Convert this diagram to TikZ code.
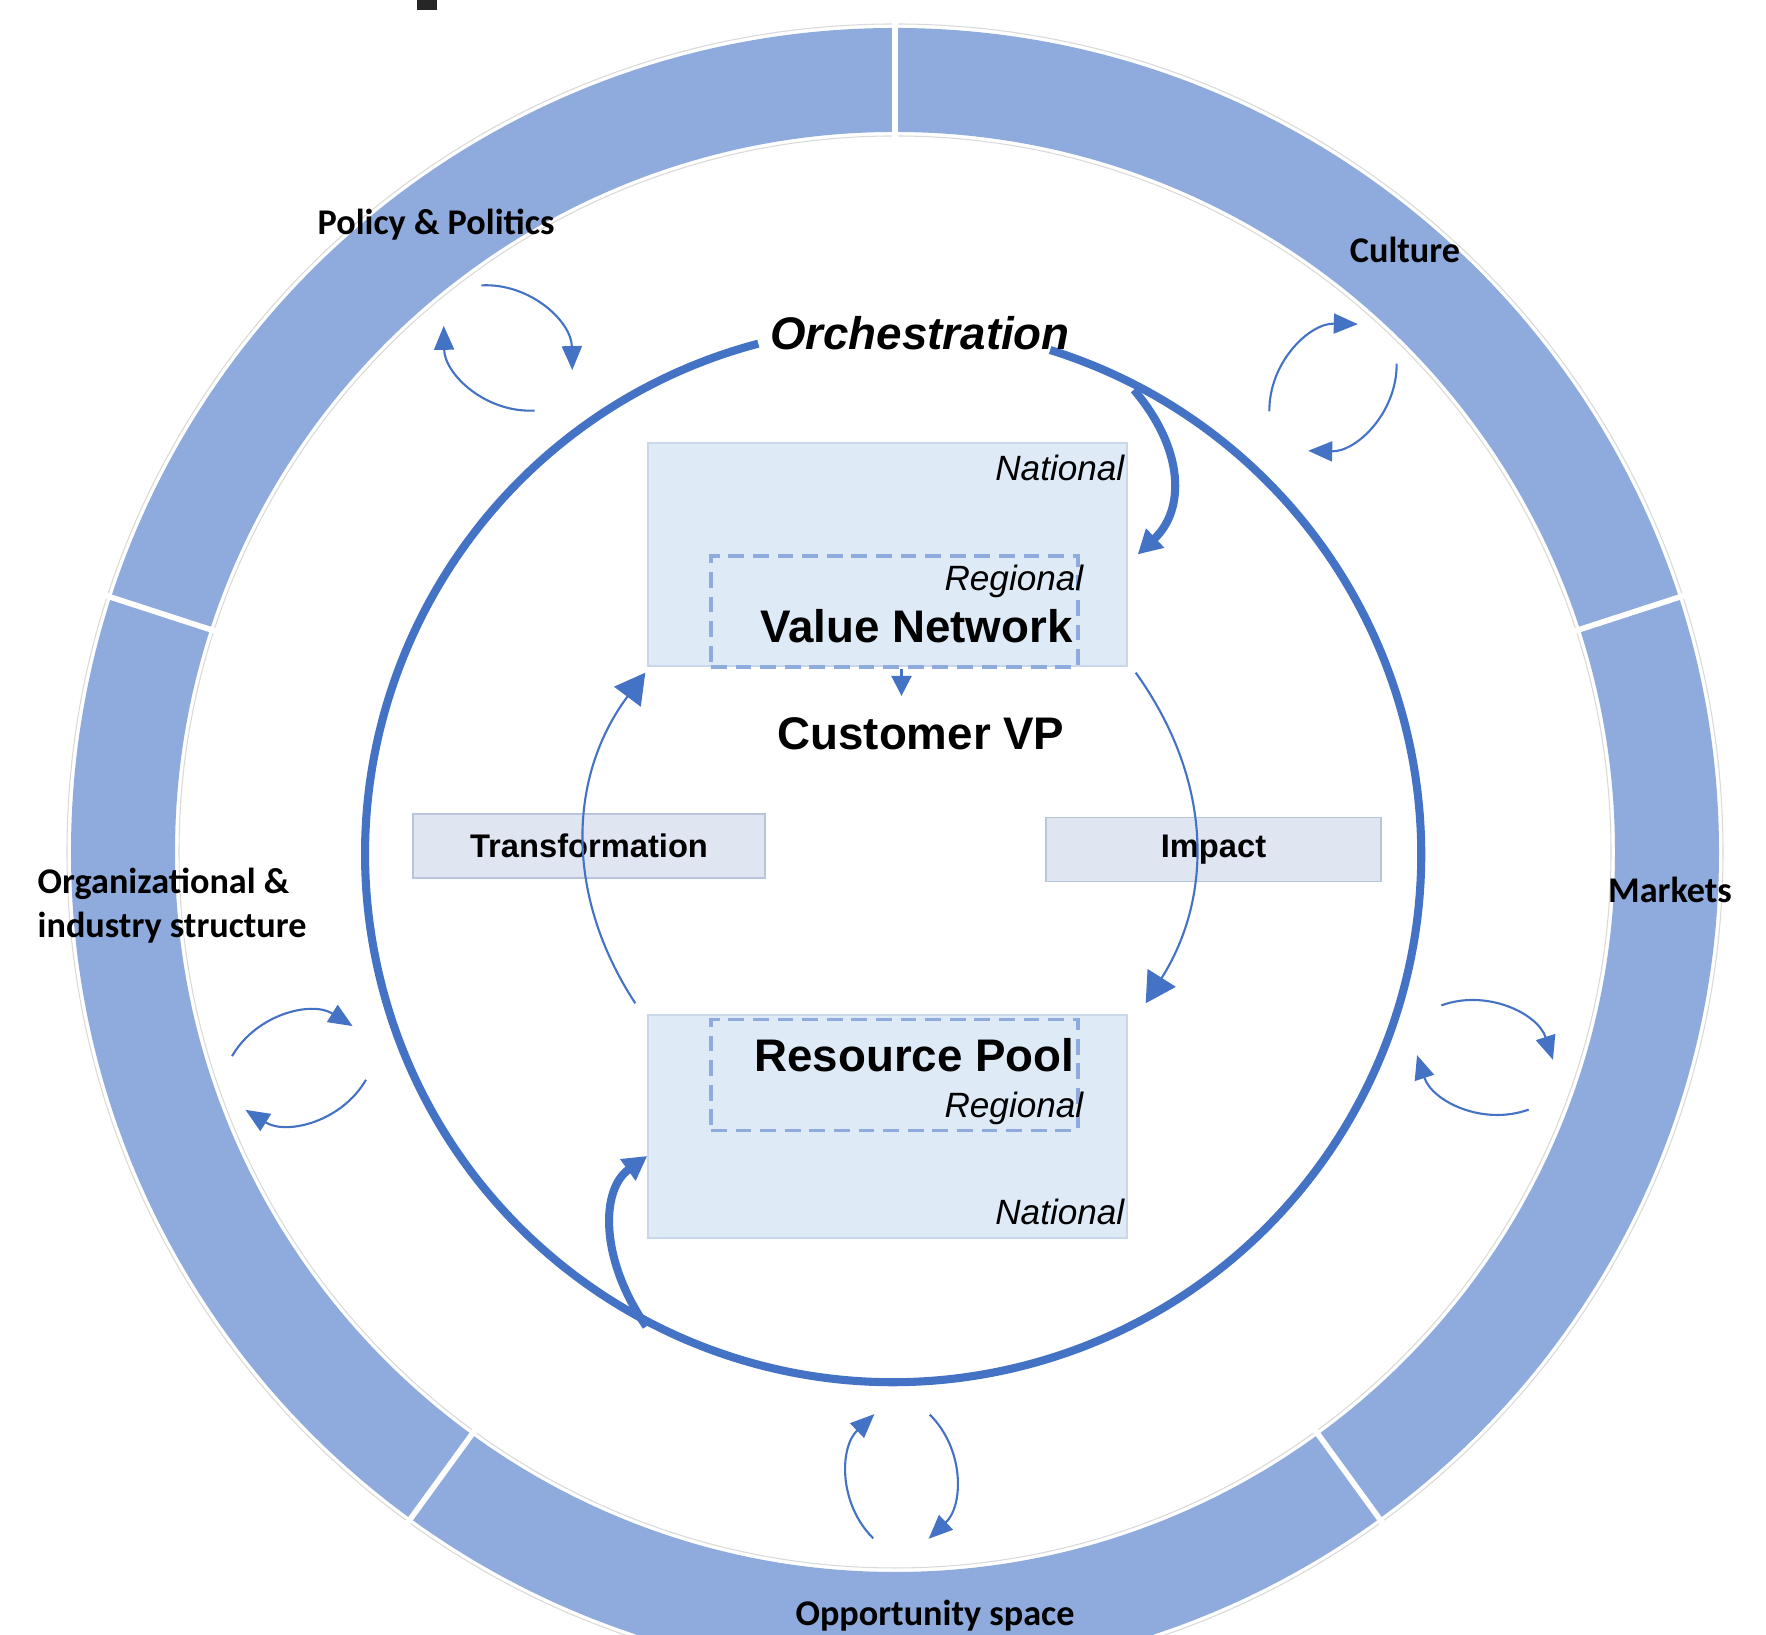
\documentclass[tikz,border=0pt]{standalone}
\usepackage{fontspec}
\setmainfont{Liberation Sans}
\newfontfamily\calibri{Carlito}
\usetikzlibrary{arrows.meta}
\definecolor{ringblue}{HTML}{8FAADC}
\definecolor{linkblue}{HTML}{4472C4}
\definecolor{natfill}{HTML}{DEEBF7}
\definecolor{natedge}{HTML}{C9D7EA}
\definecolor{stepfill}{HTML}{DFE6F2}
\definecolor{stepedge}{HTML}{B8C5DB}
\tikzset{
  ringlabel/.style={font=\calibri\bfseries\fontsize{10.3}{12.5}\selectfont, inner sep=0pt},
  bigtext/.style={font=\bfseries\fontsize{13}{15}\selectfont, inner sep=0pt},
  tag/.style={font=\itshape\fontsize{10}{12}\selectfont, inner sep=0pt},
  natbox/.style={rectangle, fill=natfill, draw=natedge, line width=0.4pt,
    minimum width=4.79cm, minimum height=2.23cm},
  regbox/.style={rectangle, draw=ringblue, line width=1.1pt, dash pattern=on 4.5pt off 2.5pt,
    minimum width=3.67cm, minimum height=1.11cm},
  stepbox/.style={rectangle, fill=stepfill, draw=stepedge, line width=0.4pt,
    minimum width=3.52cm, minimum height=0.64cm, font=\bfseries\fontsize{9.3}{11}\selectfont},
  orchline/.style={draw=linkblue, line width=2.3pt},
  loopline/.style={draw=linkblue, line width=0.6pt, -{Triangle[length=3mm,width=3.3mm]}},
  swapline/.style={draw=linkblue, line width=0.6pt, -{Triangle[length=2.4mm,width=2mm]}}
}
\begin{document}
\begin{tikzpicture}
  \useasboundingbox (0,0) rectangle (17.66,16.35);
  \clip (0,0) rectangle (17.66,16.35);
  \fill[black!85] (4.17,16.25) rectangle (4.37,16.40);

  \fill[ringblue, even odd rule] (8.95,7.83) circle (8.24) (8.95,7.83) circle (7.20);
  \draw[gray!30, line width=0.3pt] (8.95,7.83) circle (8.28) (8.95,7.83) circle (7.16);
  \foreach \a in {18,90,162,234,306}
    \draw[white, line width=1.6pt] ([shift={(\a:7.1)}]8.95,7.83) -- ([shift={(\a:8.35)}]8.95,7.83);

  \node[ringlabel] (policy) at (4.36,14.10) {Policy \& Politics};
  \node[ringlabel] (culture) at (14.05,13.85) {Culture};
  \node[ringlabel] (markets) at (16.70,7.45) {Markets};
  \node[ringlabel, align=left, anchor=west] (orgstruct) at (0.37,7.29) {Organizational \&\\industry structure};
  \node[ringlabel] (opportunity) at (9.35,0.19) {Opportunity space};

  \node[circle, minimum size=10.56cm, inner sep=0pt, outer sep=0pt] (orb) at (8.86,7.79) {};
  \draw[orchline] (orb.104.8) arc[start angle=104.8, end angle=432.7, radius=5.28];
  \node[font=\bfseries\itshape\fontsize{13}{15}\selectfont, inner sep=0pt] (orch) at (9.20,13.02) {Orchestration};

  \node[natbox] (vn) at (8.875,10.805) {};
  \node[regbox] (vnr) at (8.945,10.235) {};
  \node[tag, anchor=east] (vnnat) at (11.25,11.67) {National};
  \node[tag, anchor=east] (vnreg) at (10.84,10.54) {Regional};
  \node[bigtext] (vntext) at (9.165,10.09) {Value Network};

  \node[natbox] (rp) at (8.875,5.085) {};
  \node[regbox] (rpr) at (8.945,5.60) {};
  \node[bigtext] (rptext) at (9.145,5.80) {Resource Pool};
  \node[tag, anchor=east] (rpreg) at (10.84,5.27) {Regional};
  \node[tag, anchor=east] (rpnat) at (11.25,4.23) {National};

  \node[bigtext] (cvp) at (9.21,9.01) {Customer VP};
  \node[stepbox] (trans) at (5.89,7.89) {Transformation};
  \node[stepbox, minimum width=3.35cm] (impact) at (12.135,7.855) {Impact};

  \draw[orchline, -{Triangle[length=2.4mm,width=2.5mm]}] (orb.62.8)
    .. controls (11.85,11.85) and (11.85,11.25) .. ([xshift=1mm]vn.east);
  \draw[orchline, -{Triangle[length=2.4mm,width=2.5mm]}] (orb.243)
    .. controls (6.00,3.75) and (6.00,4.45) .. (rp.187.5);

  \draw[loopline] ([shift={(-0.12,0.11)}]rp.north west) to[bend left=35] ([shift={(-0.02,-0.06)}]vn.south west);
  \draw[loopline] ([shift={(0.08,-0.06)}]vn.south east) to[bend left=34] ([shift={(0.18,0.11)}]rp.north east);
  \draw[linkblue, line width=0.7pt, -{Triangle[length=2mm,width=2mm]}] ([xshift=0.7mm]vnr.south) -- ++(0,-0.27);

  \begin{scope}[swapline]
    \foreach \cx/\cy/\t in {5.08/12.87/113, 13.33/12.475/200.6, 14.85/5.775/130, 2.99/5.67/170, 9.015/1.585/245.5}{
      \draw ([shift={(\t:0.68)}]\cx,\cy) to[bend left=46] ([shift={(\t-132:0.68)}]\cx,\cy);
      \draw ([shift={(\t+180:0.68)}]\cx,\cy) to[bend left=46] ([shift={(\t+48:0.68)}]\cx,\cy);
    }
  \end{scope}
\end{tikzpicture}
\end{document}
